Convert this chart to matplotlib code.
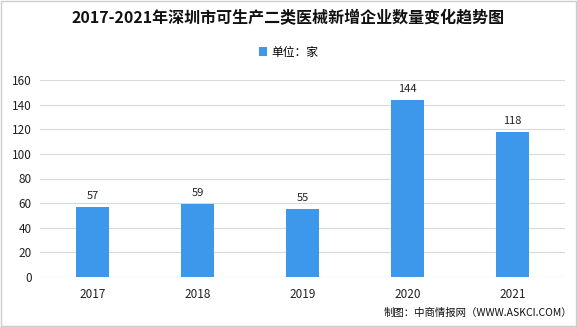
import matplotlib
matplotlib.use("Agg")
import matplotlib.pyplot as plt
from matplotlib.patches import Rectangle

plt.rcParams['font.family'] = ['Noto Sans CJK SC', 'DejaVu Sans']

years = ["2017", "2018", "2019", "2020", "2021"]
values = [57, 59, 55, 144, 118]
yticks = [0, 20, 40, 60, 80, 100, 120, 140, 160]

title = "2017-2021年深圳市可生产二类医械新增企业数量变化趋势图"
legend_label = "单位：家"
source = "制图：中商情报网（WWW.ASKCI.COM）"

bar_color = "#3D98EC"

fig = plt.figure(figsize=(5.77, 3.27), dpi=100)
ax = fig.add_axes([40/577, 1-277/327, 525/577, (277-80)/327])

x = list(range(len(years)))
bars = ax.bar(x, values, width=0.31, color=bar_color, zorder=3, label=legend_label)
for xi, v in zip(x, values):
    ax.text(xi, v + 5, str(v), ha='center', va='bottom', fontsize=8, color='#222222')

ax.set_xlim(-0.5, len(years) - 0.5)
ax.set_ylim(0, 160)
ax.set_yticks(yticks)
ax.set_xticks(x)
ax.set_xticklabels(years)
ax.tick_params(axis='both', length=0, labelsize=8.5, colors='#222222')
ax.tick_params(axis='x', pad=8)
ax.tick_params(axis='y', pad=6)
ax.grid(axis='y', color='#D9D9D9', linewidth=0.8, zorder=0)
for s in ax.spines.values():
    s.set_visible(False)
ax.axhline(0, color='#D9D9D9', linewidth=0.8, zorder=1)

fig.text(0.5, 1-18/327, title, ha='center', va='center', fontsize=11.5, fontweight='bold', color='#111111')
fig.legend(handles=[bars], labels=[legend_label], loc='center', bbox_to_anchor=(0.5, 1-52/327),
           frameon=False, fontsize=8.5, handlelength=0.7, handleheight=0.7, handletextpad=0.3)
fig.text(572/577, 1-313/327, source, ha='right', va='center', fontsize=7.5, color='#111111')

fig.patches.append(Rectangle((0.001, 0.002), 0.997, 0.996, transform=fig.transFigure,
                             fill=False, edgecolor='#CCCCCC', linewidth=1))

fig.savefig("out.png", dpi=100)
